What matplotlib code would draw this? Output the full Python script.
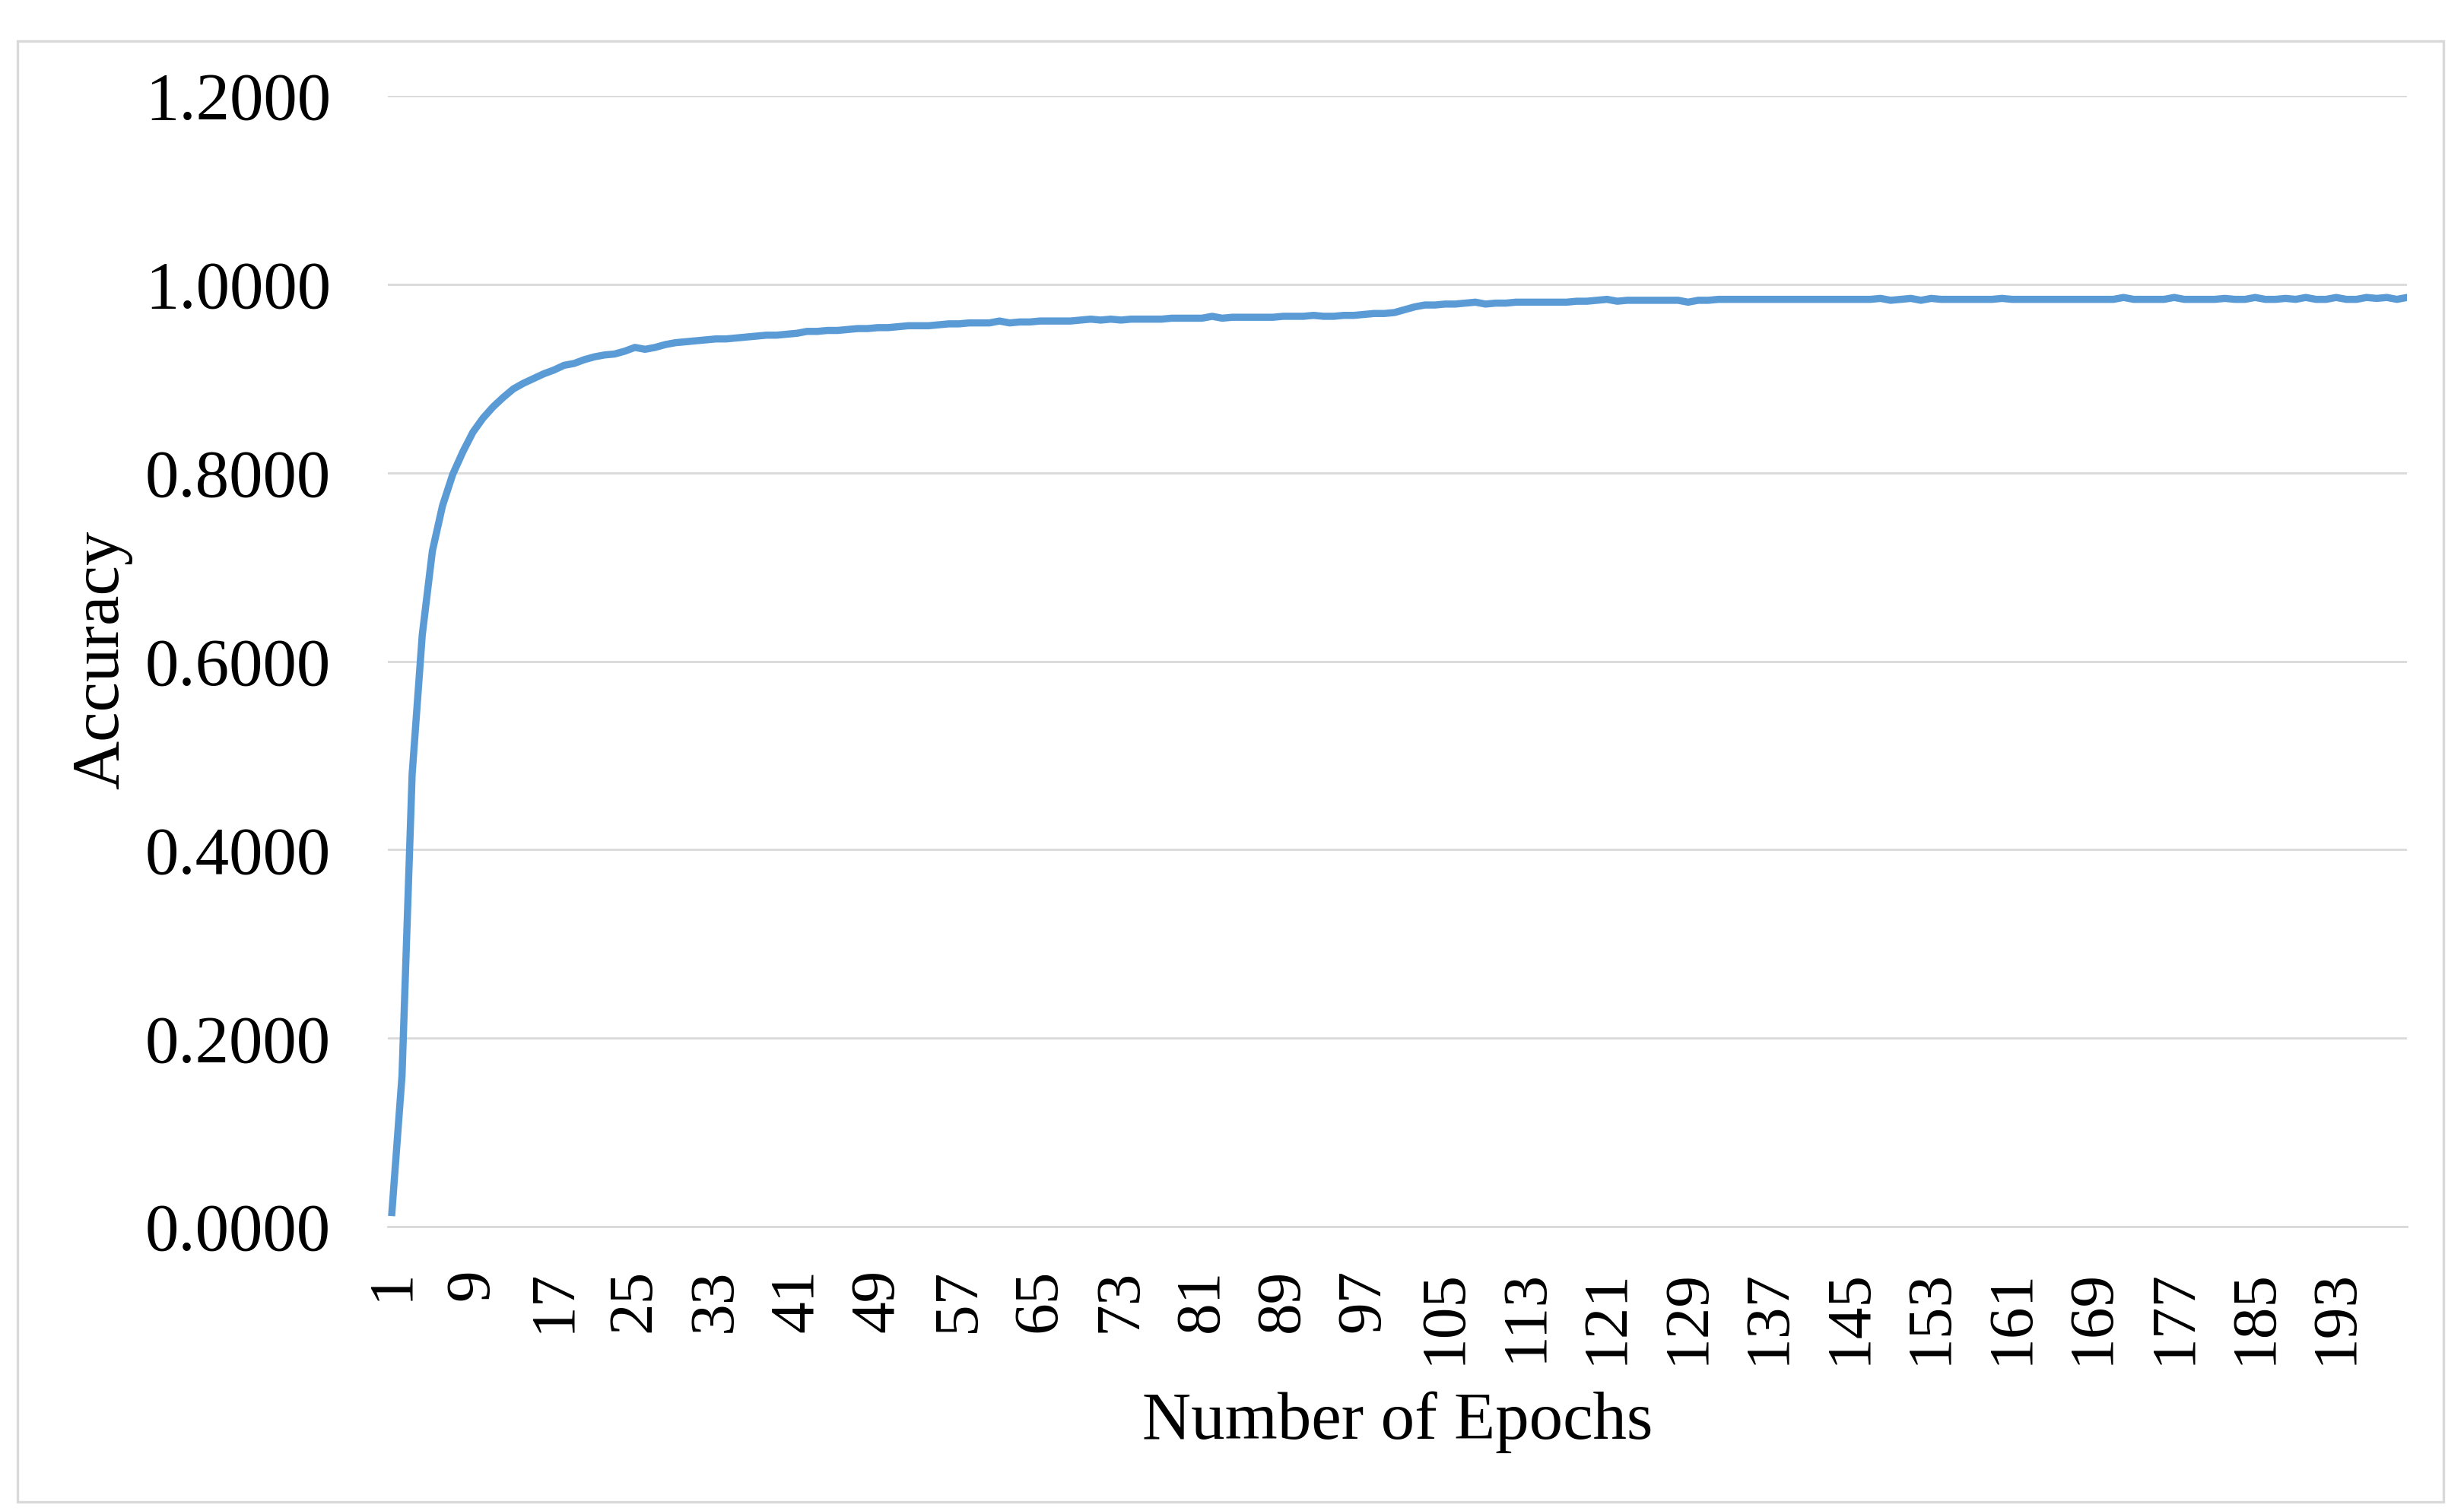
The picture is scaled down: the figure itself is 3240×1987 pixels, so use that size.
import matplotlib
matplotlib.use("Agg")
import matplotlib.pyplot as plt
from matplotlib.patches import Rectangle
import numpy as np

plt.rcParams['font.family'] = ['Liberation Serif', 'DejaVu Serif']

accuracy = [
    0.015, 0.160, 0.480, 0.628, 0.717, 0.765, 0.798, 0.822, 0.843, 0.858,
    0.870, 0.880, 0.889, 0.895, 0.900, 0.905, 0.909, 0.914, 0.916, 0.920,
    0.923, 0.925, 0.926, 0.929, 0.933, 0.931, 0.933, 0.936, 0.938, 0.939,
    0.940, 0.941, 0.942, 0.942, 0.943, 0.944, 0.945, 0.946, 0.946, 0.947,
    0.948, 0.950, 0.950, 0.951, 0.951, 0.952, 0.953, 0.953, 0.954, 0.954,
    0.955, 0.956, 0.956, 0.956, 0.957, 0.958, 0.958, 0.959, 0.959, 0.959,
    0.961, 0.959, 0.960, 0.960, 0.961, 0.961, 0.961, 0.961, 0.962, 0.963,
    0.962, 0.963, 0.962, 0.963, 0.963, 0.963, 0.963, 0.964, 0.964, 0.964,
    0.964, 0.966, 0.964, 0.965, 0.965, 0.965, 0.965, 0.965, 0.966, 0.966,
    0.966, 0.967, 0.966, 0.966, 0.967, 0.967, 0.968, 0.969, 0.969, 0.970,
    0.973, 0.976, 0.978, 0.978, 0.979, 0.979, 0.980, 0.981, 0.979, 0.980,
    0.980, 0.981, 0.981, 0.981, 0.981, 0.981, 0.981, 0.982, 0.982, 0.983,
    0.984, 0.982, 0.983, 0.983, 0.983, 0.983, 0.983, 0.983, 0.981, 0.983,
    0.983, 0.984, 0.984, 0.984, 0.984, 0.984, 0.984, 0.984, 0.984, 0.984,
    0.984, 0.984, 0.984, 0.984, 0.984, 0.984, 0.984, 0.985, 0.983, 0.984,
    0.985, 0.983, 0.985, 0.984, 0.984, 0.984, 0.984, 0.984, 0.984, 0.985,
    0.984, 0.984, 0.984, 0.984, 0.984, 0.984, 0.984, 0.984, 0.984, 0.984,
    0.984, 0.986, 0.984, 0.984, 0.984, 0.984, 0.986, 0.984, 0.984, 0.984,
    0.984, 0.985, 0.984, 0.984, 0.986, 0.984, 0.984, 0.985, 0.984, 0.986,
    0.984, 0.984, 0.986, 0.984, 0.984, 0.986, 0.985, 0.986, 0.984, 0.986,
]
epochs = list(range(1, len(accuracy) + 1))
x_tick_labels = [str(e) for e in range(1, 200, 8)]
y_ticks = [0.0, 0.2, 0.4, 0.6, 0.8, 1.0, 1.2]

fig = plt.figure(figsize=(16.2, 9.935), dpi=200)
fig.patch.set_facecolor('white')
fig.patches.append(Rectangle((0.0071, 0.006), 0.9846, 0.9668, transform=fig.transFigure,
                             fill=False, edgecolor='#D9D9D9', linewidth=1.2))

ax = fig.add_axes([0.1574, 0.1882, 0.9769 - 0.1574, 0.9366 - 0.1882])
ax.plot(epochs, accuracy, color='#5B9BD5', linewidth=3.4, solid_joinstyle='round')

ax.set_xlim(0.6, 200)
ax.set_ylim(0, 1.2)
ax.set_yticks(y_ticks)
ax.set_yticklabels([f"{v:.4f}" for v in y_ticks], fontsize=32)
ax.set_xticks([int(s) for s in x_tick_labels])
ax.set_xticklabels(x_tick_labels, rotation=90, fontsize=30)
ax.tick_params(axis='both', length=0)
ax.tick_params(axis='y', pad=27)
ax.tick_params(axis='x', pad=20)

ax.grid(axis='y', color='#D9D9D9', linewidth=1.0)
ax.set_axisbelow(True)
for s in ['top', 'right', 'left']:
    ax.spines[s].set_visible(False)
ax.spines['bottom'].set_color('#D9D9D9')
ax.spines['bottom'].set_linewidth(1.0)

ax.set_ylabel('Accuracy', fontsize=32)
ax.yaxis.label.set_va('center')
ax.yaxis.set_label_coords(-0.1416, 0.501)
ax.set_xlabel('Number of Epochs', fontsize=32)
ax.xaxis.label.set_va('center')
ax.xaxis.set_label_coords(0.5, -0.1728)

fig.savefig('out.png', dpi=200, facecolor='white')
